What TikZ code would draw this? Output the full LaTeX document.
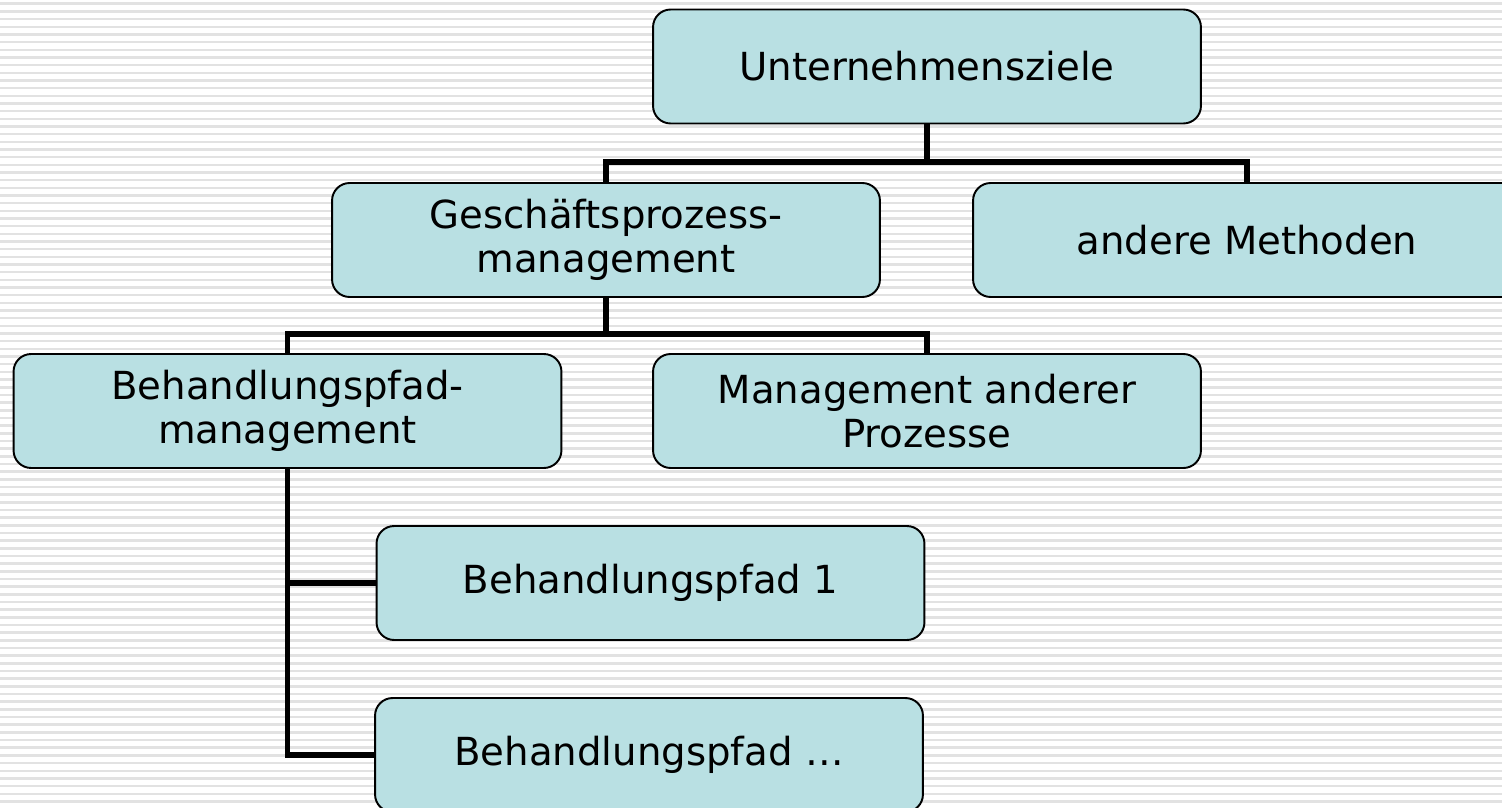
\documentclass[tikz,border=0pt]{standalone}
\usepackage{fontspec}
\setmainfont{DejaVu Sans}
\definecolor{boxfill}{RGB}{185,224,227}
\definecolor{stripe}{RGB}{226,226,226}

\begin{document}
\begin{tikzpicture}[x=0.02cm,y=-0.02cm,
  box/.style={draw=black,line width=1.1pt,fill=boxfill,rounded corners=10pt,
    minimum width=10.96cm,minimum height=2.28cm,align=center,
    font=\fontsize{22}{25}\selectfont},
  conn/.style={line width=3.2pt}]
\clip (0,0) rectangle (1502,808);
\fill[white] (0,0) rectangle (1502,808);
\foreach \i in {0,...,105}
  \fill[stripe] (0,\i*7.67+2.5) rectangle (1502,\i*7.67+5);
% boxes
\node[box] (ziele) at (927,66.5) {Unternehmensziele};
\node[box] (gpm) at (606,240) {Gesch\"aftsprozess-\\management};
\node[box] (methoden) at (1247,240) {andere Methoden};
\node[box] (bpm) at (287.5,411) {Behandlungspfad-\\management};
\node[box] (andere) at (927,411) {Management anderer\\Prozesse};
\node[box] (pfad1) at (650.5,583) {Behandlungspfad 1};
\node[box] (pfadn) at (649,755) {Behandlungspfad \dots};
% connectors
\coordinate (j1) at (927,162);
\coordinate (j2) at (606,334);
\draw[conn] (ziele.south) -- (j1);
\draw[conn] (gpm.north) |- (j1) -| (methoden.north);
\draw[conn] (gpm.south) -- (j2);
\draw[conn] (bpm.north) |- (j2) -| (andere.north);
\draw[conn] (bpm.south) |- (pfadn.west);
\draw[conn] (pfad1.west) -| (bpm.south);
\end{tikzpicture}
\end{document}
